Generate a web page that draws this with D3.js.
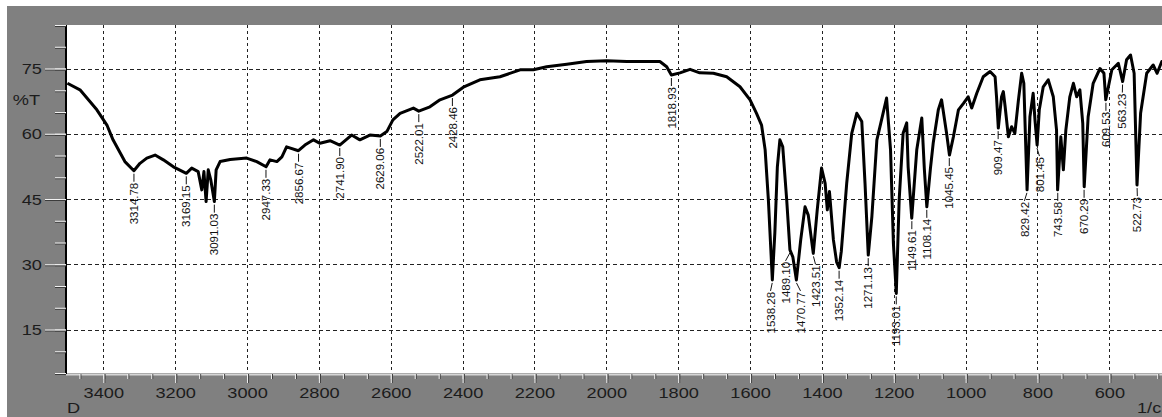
<!DOCTYPE html>
<html>
<head>
<meta charset="utf-8">
<script src="https://cdn.jsdelivr.net/npm/d3@7"></script>
<style>
body{margin:0;background:#fff;}
svg{display:block;}
.lbl{font-family:"Liberation Sans",Arial,sans-serif;font-size:14px;fill:#1c1c1c;}
.peak{font-family:"Liberation Sans",Arial,sans-serif;font-size:11.5px;fill:#111;}
</style>
</head>
<body>
<svg id="chart"></svg>
<script>
// spectrum: wave number (1/cm) and %T
var waveNumbers = [3500,3465,3418,3390,3373,3340,3315,3298,3279,3256,3233,3205,3169,3154,3136,3126,3120,3114,3108,3101,3091,3086,3075,3047,3001,2973,2947,2936,2917,2903,2890,2857,2839,2815,2797,2769,2742,2709,2686,2658,2629,2611,2594,2574,2537,2522,2491,2463,2428,2398,2352,2296,2240,2203,2166,2110,2055,1999,1943,1888,1851,1832,1819,1795,1767,1740,1702,1665,1628,1600,1582,1568,1558,1549,1538,1531,1524,1517,1509,1498,1489,1481,1471,1459,1447,1438,1424,1413,1401,1391,1385,1379,1368,1359,1352,1346,1331,1317,1303,1289,1280,1271,1261,1247,1234,1220,1209,1201,1193,1185,1174,1164,1160,1150,1136,1122,1115,1108,1098,1090,1076,1067,1053,1045,1034,1020,1006,993,983,969,951,932,918,914,909,900,895,890,881,872,863,853,844,838,829,821,812,807,801,795,784,770,756,747,744,735,728,721,710,700,691,682,674,670,659,645,626,615,610,593,575,563,552,541,531,523,513,496,478,467,454,440];
var transmittance = [71.6,70.1,65.5,62.0,58.6,53.6,51.5,53.2,54.4,55.1,54.0,52.4,50.9,52.1,51.3,47.1,51.3,44.4,51.7,49.4,44.4,51.7,53.6,54.1,54.4,53.6,52.4,54.0,53.6,54.7,57.0,56.1,57.4,58.6,57.8,58.4,57.4,59.7,58.6,59.7,59.5,60.5,63.2,64.7,65.9,65.2,66.2,67.8,68.9,70.7,72.4,73.1,74.7,74.7,75.4,76.0,76.6,76.8,76.6,76.6,76.6,75.4,73.5,74.0,74.8,74.0,73.9,73.1,70.8,67.8,64.7,62.0,56.3,44.8,26.4,37.2,52.4,58.6,57.0,44.8,33.3,31.7,26.4,35.6,43.2,41.3,32.5,42.5,52.1,48.6,42.5,46.7,35.6,30.5,29.2,33.0,48.6,60.1,64.7,62.8,48.6,32.1,40.9,58.6,63.2,68.2,56.3,34.8,23.3,44.8,60.1,62.5,52.4,40.6,56.3,63.6,52.0,43.2,52.0,58.0,65.5,67.8,60.1,55.1,59.3,65.5,67.0,68.5,65.9,69.3,73.1,74.3,73.1,68.5,61.3,68.5,69.7,66.2,59.3,61.6,60.1,67.8,73.9,71.6,47.1,63.9,69.3,63.2,57.4,65.5,70.8,72.4,68.5,60.9,47.1,59.3,51.7,60.9,68.5,71.6,68.5,70.1,62.4,47.8,63.9,71.6,75.0,73.9,67.8,74.7,76.2,72.0,77.0,78.1,73.9,48.2,64.7,73.9,75.8,73.9,76.6,76.0];

var peakLabels = ["3314.78","3169.15","3091.03","2947.33","2856.67","2741.90","2629.06","2522.01","2428.46","1818.93","1538.28","1489.10","1470.77","1423.51","1352.14","1271.13","1193.01","1149.61","1108.14","1045.45","909.47","829.42","801.45","743.58","670.29","609.53","563.23","522.73"];

var xMajorTicks = [3400,3200,3000,2800,2600,2400,2200,2000,1800,1600,1400,1200,1000,800,600];
var yMajorTicks = [15,30,45,60,75];
var xDomain = [3500, 400];
var yDomain = [5, 85];

var W = 1162, H = 417;
var plot = {left: 67, top: 25, bottom: 373, right: 1181.2};

var svg = d3.select("#chart").attr("width", W).attr("height", H);

// grey frame + white plot
svg.append("rect").attr("x", 7).attr("y", 6).attr("width", W - 7).attr("height", H - 6).attr("fill", "#808080");
svg.append("rect").attr("x", plot.left).attr("y", plot.top).attr("width", W - plot.left).attr("height", plot.bottom - plot.top).attr("fill", "#fff");

var x = d3.scaleLinear().domain(xDomain).range([plot.left + 0.4, plot.right]);
var y = d3.scaleLinear().domain(yDomain).range([plot.bottom, plot.top]);

// minor ticks at thirds of a major step
var xMinorTicks = d3.range(0, 47).map(i => 3400 + 200 / 3 - i * 200 / 3).filter(v => v <= xDomain[0] && v >= xDomain[1]);
var yMinorTicks = d3.range(yDomain[0], yDomain[1] + 1, 5);

//grid
var grid = svg.append("g");
grid.selectAll("line.gx").data(xMajorTicks).enter().append("line")
    .attr("x1", d => Math.round(x(d)) + 0.5).attr("x2", d => Math.round(x(d)) + 0.5)
    .attr("y1", plot.top).attr("y2", plot.bottom)
    .attr("stroke", "#222").attr("stroke-width", 1).attr("stroke-dasharray", "3,3");
grid.selectAll("line.gy").data(yMajorTicks).enter().append("line")
    .attr("x1", plot.left).attr("x2", W)
    .attr("y1", d => Math.round(y(d)) + 0.5).attr("y2", d => Math.round(y(d)) + 0.5)
    .attr("stroke", "#222").attr("stroke-width", 1).attr("stroke-dasharray", "4,3");

// frame edges
svg.append("line").attr("x1", plot.left - 1).attr("x2", W).attr("y1", plot.bottom + 1.5).attr("y2", plot.bottom + 1.5)
    .attr("stroke", "#d6d6d6").attr("stroke-width", 2);
svg.append("line").attr("x1", plot.left - 1).attr("x2", plot.left - 1).attr("y1", plot.top).attr("y2", plot.bottom + 1)
    .attr("stroke", "#000").attr("stroke-width", 2);

// axes, ticks drawn white with a dark shadow
var xMinor = svg.append("g").attr("transform", "translate(0," + (plot.bottom + 1) + ")")
    .call(d3.axisBottom(x).tickValues(xMinorTicks).tickSize(5).tickFormat(""));
var xMajor = svg.append("g").attr("transform", "translate(0," + (plot.bottom + 1) + ")")
    .call(d3.axisBottom(x).tickValues(xMajorTicks).tickSize(9).tickFormat(d3.format("d")));
[xMinor, xMajor].forEach(g => {
    g.select(".domain").remove();
    g.selectAll(".tick").each(function(){
        var t = d3.select(this), len = +t.select("line").attr("y2");
        t.insert("line", "line").attr("x1", 1).attr("x2", 1).attr("y1", 0).attr("y2", len).attr("stroke", "#3c3c3c");
        t.select("line:last-of-type").attr("stroke", "#f2f2f2");
    });
});
xMajor.selectAll(".tick text").attr("class", "lbl").attr("y", 24).attr("dy", 0)
    .attr("transform", "scale(1.3,1)").attr("fill", "#1c1c1c");

var yMinor = svg.append("g").attr("transform", "translate(" + (plot.left - 1) + ",0)")
    .call(d3.axisLeft(y).tickValues(yMinorTicks).tickSize(11).tickFormat(""));
var yMajor = svg.append("g").attr("transform", "translate(" + (plot.left - 1) + ",0)")
    .call(d3.axisLeft(y).tickValues(yMajorTicks).tickSize(21).tickFormat(d3.format("d")));
[yMinor, yMajor].forEach(g => {
    g.select(".domain").remove();
    g.selectAll(".tick").each(function(){
        var t = d3.select(this), len = +t.select("line").attr("x2");
        t.insert("line", "line").attr("x1", 0).attr("x2", len).attr("y1", 1).attr("y2", 1).attr("stroke", "#3c3c3c");
        t.select("line:last-of-type").attr("stroke", "#f2f2f2");
    });
});
yMajor.selectAll(".tick text").attr("class", "lbl").attr("x", -18.5).attr("dy", "0.36em")
    .attr("transform", "scale(1.3,1)").attr("fill", "#1c1c1c");

// axis captions
svg.append("text").attr("class", "lbl").attr("text-anchor", "end")
    .attr("transform", "translate(40,105) scale(1.3,1)").text("%T");
svg.append("text").attr("class", "lbl")
    .attr("transform", "translate(67,413) scale(1.3,1)").text("D");
svg.append("text").attr("class", "lbl")
    .attr("transform", "translate(1137,413) scale(1.3,1)").text("1/c");

// spectrum
var spectrum = waveNumbers.map((w, i) => ({wn: w, t: transmittance[i]}));
var line = d3.line().x(d => x(d.wn)).y(d => y(d.t));
svg.append("path").datum(spectrum)
    .attr("d", line)
    .attr("fill", "none").attr("stroke", "#000").attr("stroke-width", 3)
    .attr("stroke-linejoin", "round");

// peak labels
var peaks = peakLabels.map(s => {
    var wn = +s;
    var near = spectrum.filter(d => Math.abs(d.wn - wn) <= 6);
    var lowest = d3.least(near, d => d.t);
    return {text: s, px: x(wn), py: y(lowest.t), lx: x(wn)};
});
peaks.sort((a, b) => a.px - b.px);
for (var k = 0; k < 30; k++) {
    for (var i = 0; i < peaks.length - 1; i++) {
        var gap = peaks[i + 1].lx - peaks[i].lx;
        if (gap < 15) {
            peaks[i].lx -= (15 - gap) / 2;
            peaks[i + 1].lx += (15 - gap) / 2;
        }
    }
}
var pk = svg.append("g");
pk.selectAll("path").data(peaks).enter().append("path")
    .attr("d", d => "M" + d.px + "," + (d.py + 3) + "L" + d.lx + "," + (d.py + 11))
    .attr("stroke", "#111").attr("stroke-width", 1).attr("fill", "none");
pk.selectAll("text").data(peaks).enter().append("text")
    .attr("class", "peak")
    .attr("text-anchor", "end").attr("dy", "0.36em")
    .attr("transform", d => "translate(" + d.lx + "," + (d.py + 12) + ") rotate(-90)")
    .text(d => d.text);
</script>
</body>
</html>
